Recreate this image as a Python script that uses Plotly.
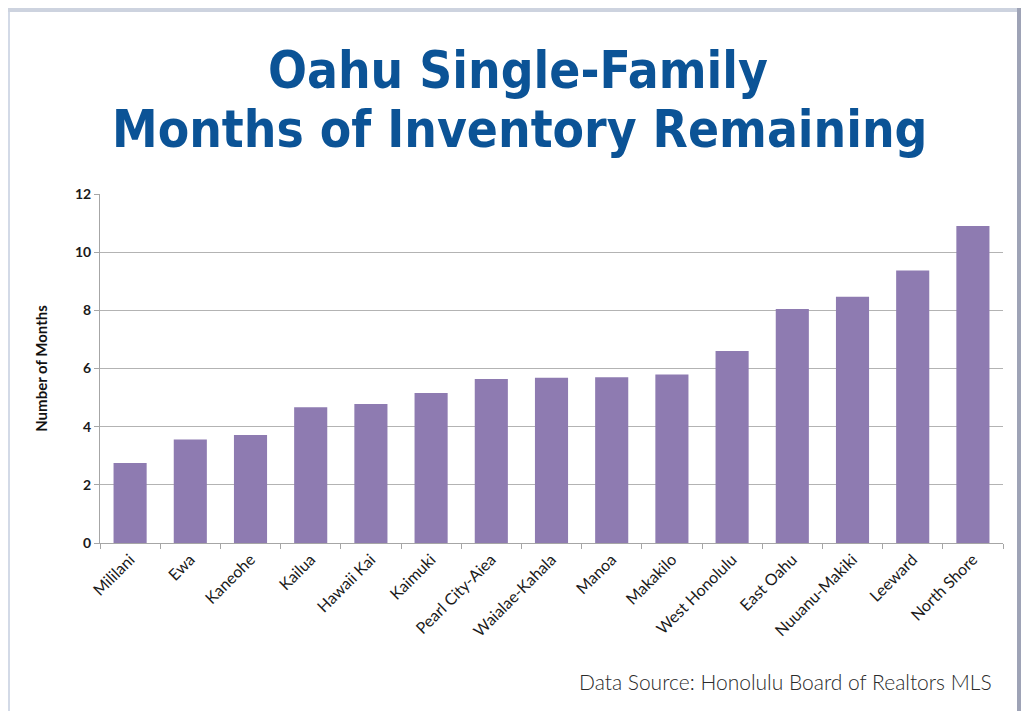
import plotly.graph_objects as go

# Oahu single-family months of inventory by region
regions = [
    "Mililani", "Ewa", "Kaneohe", "Kailua", "Hawaii Kai", "Kaimuki",
    "Pearl City-Aiea", "Waialae-Kahala", "Manoa", "Makakilo",
    "West Honolulu", "East Oahu", "Nuuanu-Makiki", "Leeward", "North Shore",
]
months = [2.75, 3.56, 3.71, 4.67, 4.78, 5.16, 5.64, 5.68, 5.70, 5.79,
          6.60, 8.05, 8.47, 9.37, 10.9]
y_ticks = [0, 2, 4, 6, 8, 10, 12]

# the html body adds an 8px margin, so work in screen pixels and shift
OFF = 8
W, H = 1029 - OFF, 711 - OFF
M_L, M_R, M_T, M_B = 100 - OFF, 26, 194 - OFF, 168
PW = W - M_L - M_R
PH = H - M_T - M_B


def px_x(x):
    return (x - OFF - M_L) / PW


def px_y(y):
    return (H - M_B - (y - OFF)) / PH


BAR = "#8e7bb1"
TITLE_BLUE = "#0b5396"

fig = go.Figure(go.Bar(
    x=regions,
    y=months,
    marker_color=BAR,
    marker_line_width=0,
    hovertemplate="<b>%{x}</b><br>%{y} months<extra></extra>",
))

# page frame around the white card
frame = [
    (OFF, OFF, 10, 711, "#d3dae7"),
    (OFF, OFF, 1029, 4 + OFF, "#cdd3df"),
    (1025 - OFF, OFF, 1029 - OFF, 711, "#9ea3b6"),
]
shapes = []
for x0, y0, x1, y1, col in frame:
    shapes.append(dict(
        type="rect", xref="paper", yref="paper", layer="below",
        x0=px_x(x0), x1=px_x(x1), y0=px_y(y1), y1=px_y(y0),
        fillcolor=col, line_width=0,
    ))

annotations = [
    dict(text="<b>Oahu Single-Family</b>", x=px_x(518), y=px_y(70)),
    dict(text="<b>Months of Inventory Remaining</b>", x=px_x(519), y=px_y(130)),
]
for a in annotations:
    a.update(xref="paper", yref="paper", showarrow=False,
             xanchor="center", yanchor="middle",
             font=dict(family="DejaVu Sans Condensed", size=51, color=TITLE_BLUE))

annotations.append(dict(
    text="Data Source: Honolulu Board of Realtors MLS",
    xref="paper", yref="paper", x=px_x(994), y=px_y(681),
    xanchor="right", yanchor="middle", showarrow=False,
    font=dict(family="Lato", size=21, color="#2a2a2a", weight=300),
))

fig.update_layout(
    width=W,
    height=H,
    margin=dict(l=M_L, r=M_R, t=M_T, b=M_B),
    paper_bgcolor="white",
    plot_bgcolor="white",
    bargap=0.45,
    showlegend=False,
    shapes=shapes,
    annotations=annotations,
    font=dict(family="Lato", color="#1a1a1a"),
    xaxis=dict(
        tickangle=-45,
        tickfont=dict(size=16, color="#1a1a1a"),
        showline=True, linecolor="#a6a6a6", linewidth=1,
        ticks="outside", tickson="boundaries", ticklen=5, tickcolor="#a6a6a6",
        showgrid=False,
    ),
    yaxis=dict(
        title=dict(text="<b>Number of Months</b>", font=dict(size=15, color="#111111"),
                   standoff=23),
        range=[0, 12],
        tickvals=y_ticks,
        ticktext=[f"<b>{v}</b>" for v in y_ticks],
        tickfont=dict(size=14, color="#1a1a1a"),
        showline=True, linecolor="#a6a6a6", linewidth=1,
        ticks="outside", ticklen=5, tickcolor="#a6a6a6",
        showgrid=True, gridcolor="#b3b3b3", gridwidth=1,
        zeroline=False,
    ),
)

fig.write_html("out.html")
